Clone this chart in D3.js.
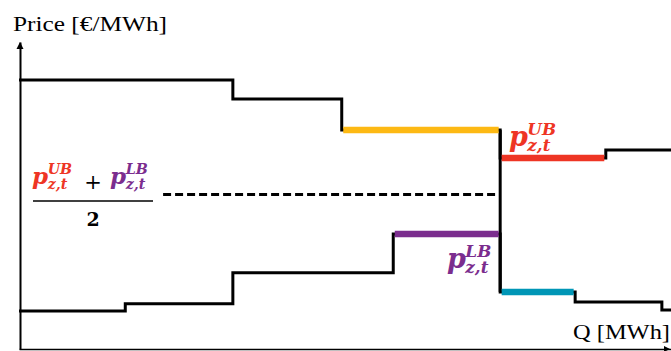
<!DOCTYPE html>
<html>
<head>
<meta charset="utf-8">
<script src="https://cdn.jsdelivr.net/npm/d3@7"></script>
<style>
  body { margin: 0; background: #fff; }
</style>
</head>
<body>
<div id="container"></div>
<script>
// upper step curve: block edges on Q and one price per block
const upperQ = [0, 32.8, 49.5, 73.8, 90.0, 100];
const upperPrice = [87.6, 81.4, 71.3, 62.2, 64.8];
// lower step curve
const lowerQ = [0, 16.3, 32.8, 57.4, 73.8, 85.3, 98.6, 100];
const lowerPrice = [12.4, 14.7, 24.8, 37.5, 18.6, 15.3, 12.7];
// highlighted blocks: [curve, block index]
const highlights = [["upper", 2], ["upper", 3], ["lower", 3], ["lower", 4]];
// where the dashed mid-price line starts
const dashStartQ = 22.1;

const width = 671;
const height = 351;

const colors = {
  "upper-2": "#fdb913",
  "upper-3": "#ee3524",
  "lower-3": "#7b2d8e",
  "lower-4": "#0096b6"
};
const red = "#ee3524";
const purple = "#7b2d8e";
const serif = "'Liberation Serif', 'Times New Roman', serif";
const mathFont = "'DejaVu Serif', serif";

const x = d3.scaleLinear().domain([0, 100]).range([19, 671]);
const y = d3.scaleLinear().domain([0, 100]).range([349, 42]);

const svg = d3.create("svg")
  .attr("width", width)
  .attr("height", height);

// axes, no ticks
svg.append("g")
  .attr("transform", `translate(0,${y(0)})`)
  .call(d3.axisBottom(x).tickValues([]).tickSizeOuter(0))
  .call(g => g.select(".domain").attr("stroke-width", 1.6));

svg.append("g")
  .attr("transform", `translate(${x(0) + 1},0)`)
  .call(d3.axisLeft(y).tickValues([]).tickSizeOuter(0))
  .call(g => g.select(".domain").attr("stroke-width", 2));

// arrow heads
svg.append("path")
  .attr("d", `M${x(0) + 1},${y(100)} l-3.5,7 h7 z`)
  .attr("fill", "#000");
svg.append("path")
  .attr("d", `M${x(100) - 1},${y(0)} l-6,-3 v6 z`)
  .attr("fill", "#000");

const stepPoints = (qs, ps) => {
  const pts = ps.map((p, i) => [qs[i], p]);
  pts.push([qs[qs.length - 1], ps[ps.length - 1]]);
  return pts;
};

const line = d3.line()
  .x(d => x(d[0]))
  .y(d => y(d[1]))
  .curve(d3.curveStepAfter);

const curves = {
  upper: { q: upperQ, p: upperPrice },
  lower: { q: lowerQ, p: lowerPrice }
};

const black = svg.append("g")
  .attr("fill", "none")
  .attr("stroke", "#000")
  .attr("stroke-width", 3)
  .attr("stroke-linejoin", "miter");

black.selectAll("path")
  .data(Object.values(curves))
  .join("path")
  .attr("d", c => line(stepPoints(c.q, c.p)));

// vertical at the clearing quantity, joining both curves
black.append("line")
  .attr("x1", x(upperQ[3]))
  .attr("x2", x(upperQ[3]))
  .attr("y1", y(upperPrice[2]))
  .attr("y2", y(lowerPrice[4]));

// coloured blocks
svg.append("g")
  .selectAll("line")
  .data(highlights)
  .join("line")
  .attr("x1", ([c, i]) => x(curves[c].q[i]) + 1.5)
  .attr("x2", ([c, i]) => x(curves[c].q[i + 1]) - 1.5)
  .attr("y1", ([c, i]) => y(curves[c].p[i]))
  .attr("y2", ([c, i]) => y(curves[c].p[i]))
  .attr("stroke", ([c, i]) => colors[`${c}-${i}`])
  .attr("stroke-width", 6.5);

// dashed mid price
const midPrice = (upperPrice[3] + lowerPrice[3]) / 2;
svg.append("line")
  .attr("x1", x(dashStartQ))
  .attr("x2", x(upperQ[3]) - 1.5)
  .attr("y1", y(midPrice) - 1.5)
  .attr("y2", y(midPrice) - 1.5)
  .attr("stroke", "#000")
  .attr("stroke-width", 3)
  .attr("stroke-dasharray", "8,4");

// axis titles
svg.append("text")
  .attr("x", 13)
  .attr("y", 31)
  .style("font-family", serif)
  .attr("font-size", 21)
  .attr("textLength", 154)
  .attr("lengthAdjust", "spacingAndGlyphs")
  .text("Price [€/MWh]");

svg.append("text")
  .attr("x", 573)
  .attr("y", 339)
  .style("font-family", serif)
  .attr("font-size", 21)
  .attr("textLength", 97)
  .attr("lengthAdjust", "spacingAndGlyphs")
  .text("Q [MWh]");

// math labels
const pSym = (g, px, py, size, sup, sub, color) => {
  const t = g.append("text")
    .style("font-family", mathFont)
    .attr("font-weight", "bold")
    .attr("font-style", "italic")
    .attr("fill", color);
  t.append("tspan").attr("x", px).attr("y", py).attr("font-size", size).text("p");
  const sx = px + size * 0.68;
  t.append("tspan").attr("x", sx).attr("y", py - size * 0.42).attr("font-size", size * 0.62).text(sup);
  t.append("tspan").attr("x", sx).attr("y", py + size * 0.2).attr("font-size", size * 0.62).text(sub);
};

const frac = svg.append("g");
pSym(frac, 32, 184, 23, "UB", "z,t", red);
frac.append("text")
  .attr("x", 93).attr("y", 189)
  .attr("text-anchor", "middle")
  .style("font-family", mathFont)
  .attr("font-size", 21)
  .text("+");
pSym(frac, 110, 184, 23, "LB", "z,t", purple);
frac.append("line")
  .attr("x1", 33).attr("x2", 153)
  .attr("y1", 201).attr("y2", 201)
  .attr("stroke", "#000")
  .attr("stroke-width", 1.6);
frac.append("text")
  .attr("x", 93).attr("y", 226)
  .attr("text-anchor", "middle")
  .style("font-family", mathFont)
  .attr("font-weight", "bold")
  .attr("font-size", 19)
  .text("2");

pSym(svg, 509, 146, 27, "UB", "z,t", red);
pSym(svg, 447, 268, 27, "LB", "z,t", purple);

d3.select("#container").append(() => svg.node());
</script>
</body>
</html>
